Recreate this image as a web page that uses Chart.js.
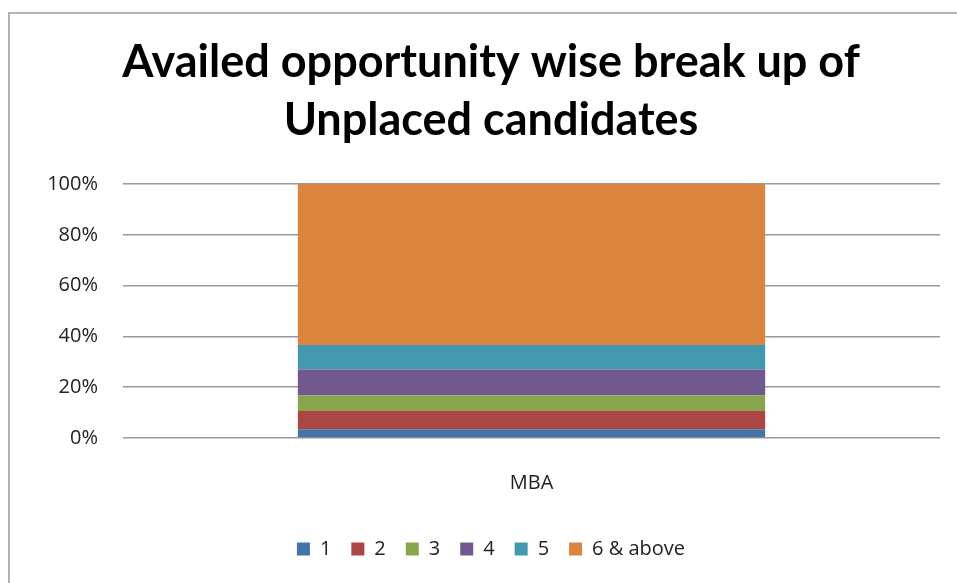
<!DOCTYPE html>
<html>
<head>
<meta charset="UTF-8">
<title>Availed opportunity wise break up of Unplaced candidates</title>
<script src="https://cdn.jsdelivr.net/npm/chart.js@4.4.1/dist/chart.umd.min.js"></script>
<style>
  html, body { margin: 0; padding: 0; background: #fff; overflow: hidden; }
  #frame {
    position: absolute; left: 8px; top: 12px; width: 1100px; height: 700px;
    border-left: 2px solid #b2b2b2; border-top: 2px solid #b2b2b2;
  }
  #wrap { position: absolute; left: 9px; top: 13px; width: 964px; height: 570px; }
</style>
</head>
<body>
<div id="frame"></div>
<div id="wrap"><canvas id="chart" width="964" height="570"></canvas></div>

<script>
  const categories = ['MBA']
  const seriesNames = ['1', '2', '3', '4', '5', '6 & above']
  const seriesValues = [3.4, 7.2, 6.2, 10.2, 9.6, 63.4]
  const seriesColors = ['#4572a7', '#aa4643', '#89a54e', '#71588f', '#4198af', '#db843d']
  const titleLines = ['Availed opportunity wise break up of', 'Unplaced candidates']

  const titleFont = 'Lato, "Open Sans", sans-serif'
  const textFont = '"Open Sans", Lato, sans-serif'

  const datasets = seriesNames.map(function (name, i) {
    return {
      label: name,
      data: [seriesValues[i]],
      backgroundColor: seriesColors[i],
      borderWidth: 0,
      categoryPercentage: 1,
      barPercentage: 0.572
    }
  })

  const ctx = document.querySelector('#chart').getContext('2d')
  const chart = new Chart(ctx, {
    type: 'bar',
    data: { labels: categories, datasets: datasets },
    options: {
      responsive: false,
      animation: false,
      layout: { padding: { left: 0, right: 0, top: 0, bottom: 14 } },
      plugins: {
        tooltip: { enabled: false },
        title: {
          display: true,
          text: titleLines,
          color: '#000',
          font: { family: titleFont, size: 45, weight: 'bold', lineHeight: 1.29 },
          padding: { top: 20, bottom: 35 }
        },
        legend: {
          position: 'bottom',
          labels: {
            color: '#222',
            font: { family: textFont, size: 20 },
            boxWidth: 13,
            boxHeight: 13,
            padding: 20
          }
        }
      },
      scales: {
        x: {
          stacked: true,
          grid: { display: false },
          border: { display: false },
          ticks: { color: '#222', font: { family: textFont, size: 20 }, padding: 25 },
          afterFit: function (scale) { scale.height = 81 }
        },
        y: {
          stacked: true,
          min: 0,
          max: 100,
          ticks: {
            stepSize: 20,
            color: '#222',
            font: { family: textFont, size: 20 },
            padding: 25,
            callback: function (v) { return v + '%' }
          },
          grid: { color: '#989898', lineWidth: 1.5, drawTicks: false },
          border: { display: false },
          afterFit: function (scale) { scale.width = 114 }
        },
        // empty right-hand axis: keeps the plot off the right edge
        // while title and legend stay centred on the whole chart
        yRight: {
          position: 'right',
          min: 0,
          max: 100,
          grid: { display: false },
          border: { display: false },
          ticks: { display: false },
          afterFit: function (scale) { scale.width = 33 }
        }
      }
    }
  })
</script>
</body>
</html>
